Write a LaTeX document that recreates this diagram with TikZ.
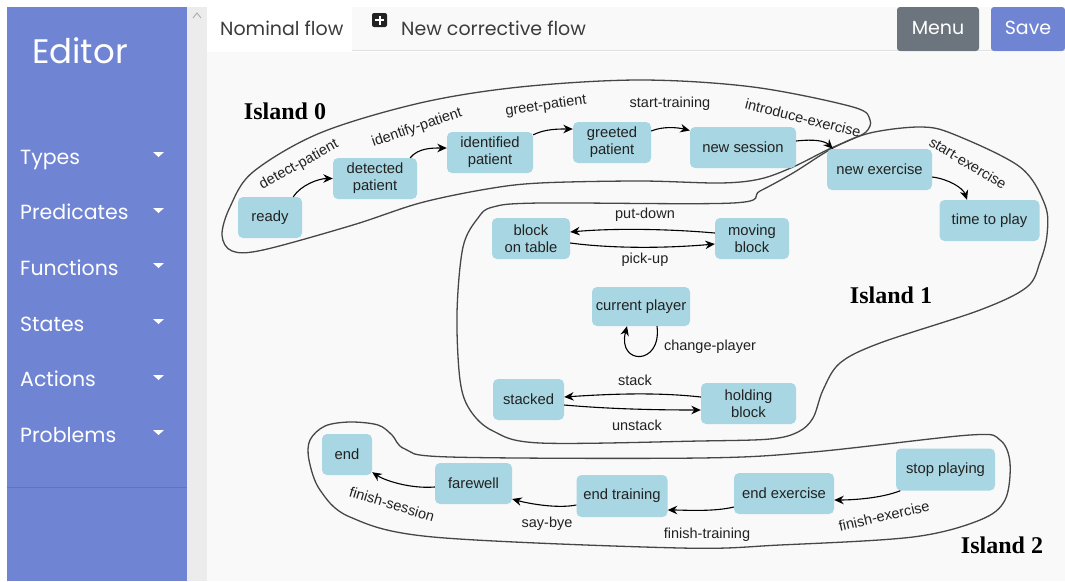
\documentclass[tikz,border=0pt]{standalone}
\usepackage{fontspec}
\setmainfont{Liberation Sans}
\newfontfamily\popfont{Poppins}
\newfontfamily\islandfont{Liberation Serif}
\usetikzlibrary{arrows.meta}
\definecolor{side}{RGB}{112,132,212}
\definecolor{sideline}{RGB}{96,115,196}
\definecolor{nodeblue}{RGB}{168,214,226}
\definecolor{canvasbg}{RGB}{249,249,249}
\definecolor{menugray}{RGB}{108,117,125}
\definecolor{txt}{RGB}{34,34,34}
\definecolor{island}{RGB}{70,70,70}
\definecolor{tabtxt}{RGB}{60,60,60}
\definecolor{strip}{RGB}{236,236,236}
\tikzset{
  st/.style={rectangle, rounded corners=5pt, fill=nodeblue, text=txt, font=\fontsize{14.8}{17}\selectfont, align=center, inner sep=0pt},
  lbl/.style={text=txt, font=\fontsize{14.5}{16}\selectfont, inner sep=0pt},
  conn/.style={line width=1.1pt, draw=black, -{Stealth[length=9.5pt,width=8.5pt]}},
  isl/.style={draw=island, line width=1.3pt},
  islbl/.style={font=\islandfont\bfseries\fontsize{24}{26}\selectfont, text=black, inner sep=0pt},
  sidetxt/.style={text=white, font=\popfont\fontsize{20.5}{24}\selectfont, anchor=base west, inner sep=0pt},
  tabtext/.style={text=tabtxt, font=\popfont\fontsize{19}{22}\selectfont, anchor=base west, inner sep=0pt},
  btntext/.style={text=white, font=\popfont\fontsize{19}{22}\selectfont, inner sep=0pt},
  btn/.style={rounded corners=3pt}
}
\begin{document}
\begin{tikzpicture}[x=1pt,y=-1pt]
\useasboundingbox (0,0) rectangle (1065,581);
\fill[white] (0,0) rectangle (1065,581);
% sidebar
\fill[side] (7,7) rectangle (187,581);
\draw[sideline, line width=1pt] (7,487) -- (187,487);
\fill[strip] (187,7) rectangle (207,581);
\draw[gray!70, line width=0.8pt] (193,18) -- (197,13) -- (201,18);
\node[text=white, font=\popfont\fontsize{34}{38}\selectfont, anchor=base west, inner sep=0pt] (editor) at (32,63) {Editor};
\node[sidetxt] (types) at (20,164) {Types};
\node[sidetxt] (preds) at (20,219) {Predicates};
\node[sidetxt] (funcs) at (20,275) {Functions};
\node[sidetxt] (states) at (20,331) {States};
\node[sidetxt] (actions) at (20,386) {Actions};
\node[sidetxt] (problems) at (20,442) {Problems};
\foreach \yy in {152,208,263,319,375,430}{
  \fill[white] (153,\yy) -- (164,\yy) -- (158.5,\yy+5) -- cycle;
}
% top tabs
\fill[canvasbg] (207,52) rectangle (1065,581);
\fill[canvasbg] (352,7) rectangle (1065,50);
\draw[black!12, line width=1pt] (352,50) -- (1065,50);
\fill[white] (207,7) rectangle (352,52);
\node[tabtext] (nominal) at (220,35) {Nominal flow};
\fill[txt, rounded corners=2pt] (372,13) rectangle (387,27);
\draw[white, line width=2pt] (379.5,15.5) -- (379.5,24.5) (375,20) -- (384,20);
\node[tabtext] (corrective) at (401,35) {New corrective flow};
\fill[menugray, btn] (897,7) rectangle (979,51);
\node[btntext] (menu) at (938,28) {Menu};
\fill[side, btn] (991,7) rectangle (1065,51);
\node[btntext] (save) at (1028,28) {Save};

% islands
\draw[isl] plot[smooth cycle, tension=0.55] coordinates {
 (222,235) (230,207) (253,172) (320,133) (420,103) (520,87) (640,80) (753,87) (853,107) (870,120) (866,132) (850,140) (827,150) (793,167) (760,179) (720,183) (640,181) (540,183) (487,189) (420,203) (353,225) (263,250) (232,251)};
\draw[isl] plot[smooth cycle, tension=0.55] coordinates {
 (493,207) (540,203) (733,203) (760,191) (793,173) (833,148) (870,133) (920,127) (953,134) (1020,167) (1045,205) (1047,235) (1040,262) (1027,287) (980,310) (880,343) (840,363) (823,390) (813,418) (798,432) (770,439) (700,441) (540,443) (493,431) (470,410) (460,380) (457,313) (463,247) (478,218)};
\draw[isl] plot[smooth cycle, tension=0.55] coordinates {
 (310,440) (325,426) (350,422) (378,425) (392,435) (405,449) (450,457) (700,458) (813,452) (970,435) (1000,440) (1010,463) (1005,500) (980,520) (913,537) (780,545) (680,548) (433,537) (350,517) (320,490) (309,460)};
\node[islbl] (i0) at (285,111) {Island 0};
\node[islbl] (i1) at (891,295) {Island 1};
\node[islbl] (i2) at (1002,545) {Island 2};

% states
\node[st, minimum width=64pt, minimum height=41pt] (ready) at (270,217.5) {ready};
\node[st, minimum width=84pt, minimum height=41pt] (detected) at (375,178.5) {detected\\patient};
\node[st, minimum width=86pt, minimum height=41pt] (identified) at (490,152.5) {identified\\patient};
\node[st, minimum width=78pt, minimum height=41pt] (greeted) at (612,142.5) {greeted\\patient};
\node[st, minimum width=106pt, minimum height=41pt] (newsession) at (743,147.5) {new session};
\node[st, minimum width=105pt, minimum height=41pt] (newexercise) at (879.5,169.5) {new exercise};
\node[st, minimum width=100pt, minimum height=41pt] (timetoplay) at (989.5,220.5) {time to play};
\node[st, minimum width=78pt, minimum height=41pt] (blockontable) at (531,238.5) {block\\on table};
\node[st, minimum width=74pt, minimum height=41pt] (movingblock) at (752,238.5) {moving\\block};
\node[st, minimum width=98pt, minimum height=39pt] (currentplayer) at (641,306.5) {current player};
\node[st, minimum width=71pt, minimum height=41pt] (stacked) at (528.5,399.5) {stacked};
\node[st, minimum width=95pt, minimum height=41pt] (holdingblock) at (748.5,403.5) {holding\\block};
\node[st, minimum width=50pt, minimum height=41pt] (end) at (347,454.5) {end};
\node[st, minimum width=77pt, minimum height=41pt] (farewell) at (473.5,483.5) {farewell};
\node[st, minimum width=91pt, minimum height=42pt] (endtraining) at (622,496) {end training};
\node[st, minimum width=100pt, minimum height=41pt] (endexercise) at (784,493.5) {end exercise};
\node[st, minimum width=99pt, minimum height=42pt] (stopplaying) at (945.5,469.5) {stop playing};

% connectors
\draw[conn] ([xshift=-9pt]ready.north east) .. controls +(8,-12) and +(-14,0) .. (detected.west);
\draw[conn] ([xshift=-7pt]detected.north east) .. controls +(8,-10) and +(-14,0) .. ([yshift=4.5pt]identified.west);
\draw[conn] ([yshift=-3pt]identified.north east) .. controls +(12,-6) and +(-14,0) .. ([yshift=13.5pt]greeted.west);
\draw[conn] ([yshift=11.5pt]greeted.east) .. controls +(12,-5) and +(-12,-3) .. ([yshift=17pt]newsession.west);
\draw[conn] ([yshift=6.5pt]newsession.east) .. controls +(18,-2) and +(-8,-8) .. ([xshift=6pt]newexercise.north west);
\draw[conn] ([yshift=-7.5pt]newexercise.east) .. controls +(16,2) and +(-4,-12) .. ([xshift=-22.5pt]timetoplay.north);
\draw[conn] ([yshift=5.5pt]movingblock.west) .. controls +(-45,-4) and +(45,-4) .. ([yshift=6.5pt]blockontable.east);
\draw[conn] ([yshift=-4.5pt]blockontable.east) .. controls +(45,6) and +(-45,4) .. ([yshift=-5.5pt]movingblock.west);
\draw[conn] ([xshift=16pt]currentplayer.south) .. controls +(5,40) and +(-10,39) .. ([xshift=-14pt]currentplayer.south);
\draw[conn] ([yshift=6.5pt]holdingblock.west) .. controls +(-45,-5) and +(45,-3) .. ([yshift=2.5pt]stacked.east);
\draw[conn] ([yshift=-5.5pt]stacked.east) .. controls +(45,4) and +(-45,0) .. ([yshift=-6.5pt]holdingblock.west);
\draw[conn] ([xshift=4.5pt]stopplaying.south west) .. controls +(-20,8) and +(16,0) .. ([yshift=-6.5pt]endexercise.east);
\draw[conn] ([yshift=-13.5pt]endexercise.west) .. controls +(-20,5) and +(16,0) .. ([yshift=-14pt]endtraining.east);
\draw[conn] ([yshift=-9pt]endtraining.west) .. controls +(-20,4) and +(14,4) .. ([yshift=-15.5pt]farewell.east);
\draw[conn] ([yshift=-3.5pt]farewell.west) .. controls +(-25,2) and +(12,8) .. ([yshift=3pt]end.south east);

% labels
\node[lbl, rotate=29] (l1) at (299,165) {detect-patient};
\node[lbl, rotate=19] (l2) at (417,128) {identify-patient};
\node[lbl, rotate=8] (l3) at (546,106) {greet-patient};
\node[lbl] (l4) at (670,104) {start-training};
\node[lbl, rotate=-14] (l5) at (803,118) {introduce-exercise};
\node[lbl, rotate=-31] (l6) at (968,163) {start-exercise};
\node[lbl] (l7) at (645,215) {put-down};
\node[lbl] (l8) at (645,260) {pick-up};
\node[lbl] (l9) at (710,347) {change-player};
\node[lbl] (l10) at (635,380) {stack};
\node[lbl] (l11) at (637,425) {unstack};
\node[lbl, rotate=13] (l12) at (884,516) {finish-exercise};
\node[lbl] (l13) at (707,535) {finish-training};
\node[lbl] (l14) at (547,524) {say-bye};
\node[lbl, rotate=-17] (l15) at (392,504) {finish-session};
\end{tikzpicture}
\end{document}
